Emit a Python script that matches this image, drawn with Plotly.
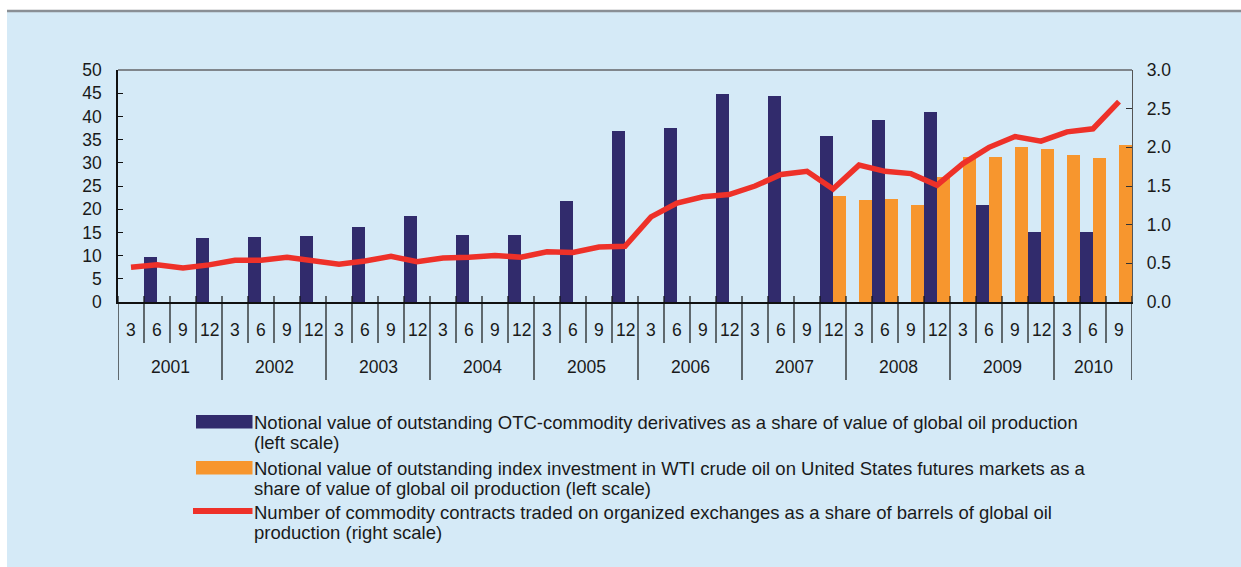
import plotly.graph_objects as go

# ---------------- data ----------------
years = ["2001", "2002", "2003", "2004", "2005", "2006", "2007", "2008", "2009", "2010"]
quarter_labels = ["3", "6", "9", "12"] * 9 + ["3", "6", "9"]

otc_share = [None, 9.8, None, 13.7, None, 14.1, None, 14.2, None, 16.2,
             None, 18.5, None, 14.5, None, 14.4, None, 21.7, None, 36.8,
             None, 37.4, None, 44.8, None, 44.3, None, 35.8, None, 39.2,
             None, 41.0, None, 21.0, None, 15.1, None, 15.0, None]

index_share = [None] * 27 + [22.8, 21.9, 22.2, 20.8, 26.9, 31.3, 31.2, 33.3,
                             33.0, 31.7, 31.1, 33.9]

contracts_share = [0.45, 0.48, 0.44, 0.48, 0.54, 0.54, 0.58, 0.53, 0.49, 0.53,
                   0.59, 0.52, 0.57, 0.58, 0.60, 0.58, 0.65, 0.64, 0.71, 0.72,
                   1.10, 1.28, 1.36, 1.39, 1.50, 1.65, 1.69, 1.46, 1.77, 1.69,
                   1.66, 1.51, 1.79, 2.00, 2.14, 2.08, 2.20, 2.24, 2.59]

legend_texts = [
    ["Notional value of outstanding OTC-commodity derivatives as a share of value of global oil production",
     "(left scale)"],
    ["Notional value of outstanding index investment in WTI crude oil on United States futures markets as a",
     "share of value of global oil production (left scale)"],
    ["Number of commodity contracts traded on organized exchanges as a share of barrels of global oil",
     "production (right scale)"],
]

NAVY = "#312b6c"
ORANGE = "#f7962e"
RED = "#ee3129"
BG = "#d5eaf7"
FONT = "Liberation Sans, Arial, sans-serif"

# page is 1241x567; body margin is removed by post_script so figure = page
PAGE_W, PAGE_H = 1241, 567
W, H = PAGE_W, PAGE_H
PL, PR, PT, PB = 118, 1132, 70, 302        # plot box in page pixels
L, T = PL, PT
R, B = W - PR, H - PB
PW, PH = PR - PL, PB - PT


def px2x(px):
    return (px - PL) / PW


def px2y(py):
    return (PB - py) / PH


n = len(quarter_labels)
xs = list(range(n))

fig = go.Figure()
fig.add_trace(go.Bar(x=xs, y=otc_share, marker=dict(color=NAVY, line=dict(width=0)),
                     name="otc", showlegend=False))
fig.add_trace(go.Bar(x=xs, y=index_share, marker=dict(color=ORANGE, line=dict(width=0)),
                     name="index", showlegend=False))
fig.add_trace(go.Scatter(x=xs, y=contracts_share, yaxis="y2", mode="lines",
                         line=dict(color=RED, width=5.5), name="contracts",
                         showlegend=False))

shapes = []
annotations = []

# background panel + top rule
shapes.append(dict(type="rect", xref="paper", yref="paper", x0=px2x(7), x1=px2x(PAGE_W + 5),
                   y0=px2y(PAGE_H + 5), y1=px2y(11), fillcolor=BG, line=dict(width=0),
                   layer="below"))
shapes.append(dict(type="line", xref="paper", yref="paper", x0=px2x(7), x1=px2x(PAGE_W + 5),
                   y0=px2y(11), y1=px2y(11), line=dict(color="#8a8f95", width=2.5)))
# top border of plot
shapes.append(dict(type="line", xref="paper", yref="paper", x0=0, x1=1, y0=1, y1=1,
                   line=dict(color="#80868c", width=2)))

# quarter / year dividers
for k in range(n + 1):
    xb = k - 0.5
    is_year = (k % 4 == 0) or (k == n)
    shapes.append(dict(type="line", xref="x", yref="paper", x0=xb, x1=xb,
                       y0=px2y(296), y1=px2y(380 if is_year else 343),
                       line=dict(color="#111111", width=1.2)))

# quarter labels
for i, q in enumerate(quarter_labels):
    annotations.append(dict(x=i, y=px2y(330), xref="x", yref="paper", text=q,
                            showarrow=False, xanchor="center", yanchor="middle",
                            font=dict(size=17.5, color="#1a1a1a", family=FONT)))
# year labels
for j, yr in enumerate(years):
    first = 4 * j
    last = min(4 * j + 3, n - 1)
    annotations.append(dict(x=(first + last) / 2, y=px2y(367), xref="x", yref="paper",
                            text=yr, showarrow=False, xanchor="center", yanchor="middle",
                            font=dict(size=17.5, color="#1a1a1a", family=FONT)))

# custom legend
swatches = [
    dict(color=NAVY, y0=415, y1=428.5, x0=196),
    dict(color=ORANGE, y0=461, y1=474.5, x0=196),
    dict(color=RED, y0=508, y1=514, x0=193),
]
baselines = [(429, 449), (475, 495), (519, 539)]
for sw, lines, bl in zip(swatches, legend_texts, baselines):
    shapes.append(dict(type="rect", xref="paper", yref="paper", x0=px2x(sw["x0"]),
                       x1=px2x(252.5), y0=px2y(sw["y1"]), y1=px2y(sw["y0"]),
                       fillcolor=sw["color"], line=dict(width=0)))
    for txt, b in zip(lines, bl):
        annotations.append(dict(x=px2x(252), y=px2y(b - 6.5), xref="paper", yref="paper",
                                text=txt, showarrow=False, xanchor="left", yanchor="middle",
                                align="left",
                                font=dict(size=18.5, color="#1a1a1a", family=FONT)))

fig.update_layout(
    width=W, height=H, autosize=False,
    margin=dict(l=L, r=R, t=T, b=B, pad=0),
    paper_bgcolor="white", plot_bgcolor=BG,
    barmode="group", bargap=0.0, bargroupgap=0.0,
    font=dict(family=FONT, color="#1a1a1a"),
    hovermode=False,
    xaxis=dict(range=[-0.5, n - 0.5], showgrid=False, zeroline=False,
               showticklabels=False, ticks="", showline=True, linecolor="#111111",
               linewidth=2),
    yaxis=dict(range=[0, 50], dtick=5, tick0=0, showgrid=False, zeroline=False,
               ticks="inside", ticklen=5, tickcolor="#111111", tickwidth=1,
               showline=True, linecolor="#111111", linewidth=1.7,
               tickfont=dict(size=17.5, color="#1a1a1a", family=FONT),
               ticklabelstandoff=11),
    yaxis2=dict(range=[0, 3], dtick=0.5, tick0=0, tickformat=".1f", overlaying="y",
                side="right", anchor="x", showgrid=False, zeroline=False,
                ticks="inside", ticklen=6, tickcolor="#333333", tickwidth=1,
                showline=True, linecolor="#555555", linewidth=1.3,
                tickfont=dict(size=17.5, color="#1a1a1a", family=FONT),
                ticklabelstandoff=10),
    shapes=shapes,
    annotations=annotations,
)

fig.write_html("out.html", config={"displayModeBar": False},
               post_script="document.body.style.margin='0';document.body.style.overflow='hidden';")
